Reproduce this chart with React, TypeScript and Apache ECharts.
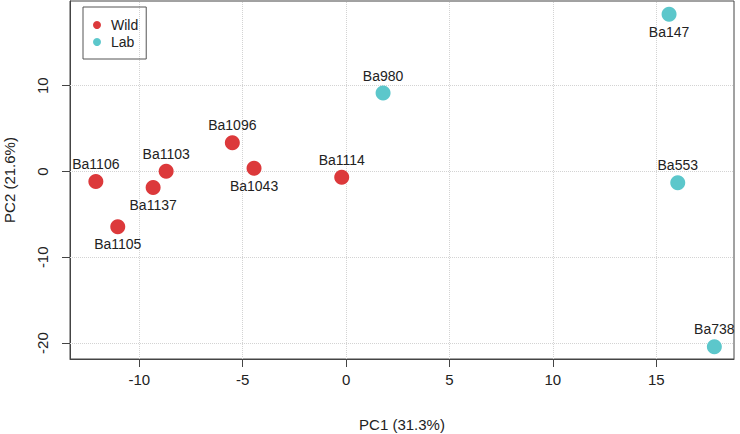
import React, { useEffect, useRef } from "react";
import * as echarts from "echarts";

const wildNames = ["Ba1106", "Ba1105", "Ba1137", "Ba1103", "Ba1096", "Ba1043", "Ba1114"];
const wildPC1 = [-12.1, -11.04, -9.33, -8.7, -5.5, -4.45, -0.21];
const wildPC2 = [-1.16, -6.43, -1.86, 0.04, 3.34, 0.38, -0.66];
const wildLabelSide = ["top", "bottom", "bottom", "top", "top", "bottom", "top"];

const labNames = ["Ba980", "Ba147", "Ba553", "Ba738"];
const labPC1 = [1.79, 15.62, 16.04, 17.81];
const labPC2 = [9.15, 18.34, -1.32, -20.43];
const labLabelSide = ["top", "bottom", "top", "top"];

const xTicks = [-10, -5, 0, 5, 10, 15];
const yTicks = [-20, -10, 0, 10];
const xRange = [-13.35, 18.76];
const yRange = [-21.86, 19.88];

const RED = "#DC393B";
const CYAN = "#5CC7CB";
const TEXT = "#222222";
const FONT = "Liberation Sans, Arial, Helvetica, sans-serif";

function buildPoints(names: string[], xs: number[], ys: number[], sides: string[]) {
  return names.map((n, i) => ({
    name: n,
    value: [xs[i], ys[i]],
    label: { position: sides[i] },
  }));
}

export default function App() {
  const ref = useRef<HTMLDivElement>(null);
  useEffect(() => {
    if (!ref.current) return;
    const chart = echarts.init(ref.current, null, { renderer: "svg" });
    const gridLine = { type: "dotted", color: "#d3d3d3", width: 1 };
    chart.setOption({
      animation: false,
      backgroundColor: "#ffffff",
      textStyle: { fontFamily: FONT },
      grid: {
        left: 70,
        top: 1,
        width: 664,
        height: 358,
        containLabel: false,
        outerBoundsMode: "none",
        show: true,
        borderColor: "#444",
        borderWidth: 1,
        backgroundColor: "transparent",
      },
      legend: {
        data: ["Wild", "Lab"],
        orient: "vertical",
        left: 83,
        top: 7,
        padding: [11, 8, 10, 10],
        itemGap: 3,
        itemWidth: 8,
        itemHeight: 8,
        icon: "circle",
        borderColor: "#555",
        borderWidth: 1,
        borderRadius: 0,
        textStyle: { fontSize: 14, color: TEXT, fontFamily: FONT, padding: [0, 0, 0, 5] },
      },
      xAxis: {
        type: "value",
        min: xRange[0],
        max: xRange[1],
        name: "PC1 (31.3%)",
        nameLocation: "middle",
        nameGap: 58,
        nameTextStyle: { fontSize: 15, color: TEXT, fontFamily: FONT },
        axisLine: { show: true, onZero: false, lineStyle: { color: "#444" } },
        axisTick: { show: true, customValues: xTicks, length: 8, lineStyle: { color: "#444" } },
        axisLabel: { customValues: xTicks, fontSize: 15, color: TEXT, margin: 13, fontFamily: FONT },
        splitLine: { show: false },
      },
      yAxis: {
        type: "value",
        min: yRange[0],
        max: yRange[1],
        name: "PC2 (21.6%)",
        nameLocation: "middle",
        nameGap: 53,
        nameTextStyle: { fontSize: 15, color: TEXT, fontFamily: FONT },
        axisLine: { show: true, onZero: false, lineStyle: { color: "#444" } },
        axisTick: { show: true, customValues: yTicks, length: 8, lineStyle: { color: "#444" } },
        axisLabel: { customValues: yTicks, fontSize: 15, color: TEXT, margin: 20, rotate: 90, fontFamily: FONT },
        splitLine: { show: false },
      },
      series: [
        {
          name: "grid",
          type: "scatter",
          data: [],
          silent: true,
          z: 1,
          markLine: {
            silent: true,
            z: 1,
            symbol: ["none", "none"],
            label: { show: false },
            lineStyle: gridLine,
            data: [
              ...xTicks.map((v) => ({ xAxis: v })),
              ...yTicks.map((v) => ({ yAxis: v })),
            ],
          },
        },
        {
          name: "Wild",
          type: "scatter",
          symbol: "circle",
          symbolSize: 15,
          z: 3,
          itemStyle: { color: RED, opacity: 1 },
          label: { show: true, formatter: "{b}", fontSize: 14, color: TEXT, distance: 3, fontFamily: FONT },
          data: buildPoints(wildNames, wildPC1, wildPC2, wildLabelSide),
        },
        {
          name: "Lab",
          type: "scatter",
          symbol: "circle",
          symbolSize: 15,
          z: 3,
          itemStyle: { color: CYAN, opacity: 1 },
          label: { show: true, formatter: "{b}", fontSize: 14, color: TEXT, distance: 3, fontFamily: FONT },
          data: buildPoints(labNames, labPC1, labPC2, labLabelSide),
        },
      ],
    });
    return () => chart.dispose();
  }, []);
  return <div ref={ref} style={{ width: 740, height: 434, position: "absolute", left: 0, top: 0 }} />;
}
